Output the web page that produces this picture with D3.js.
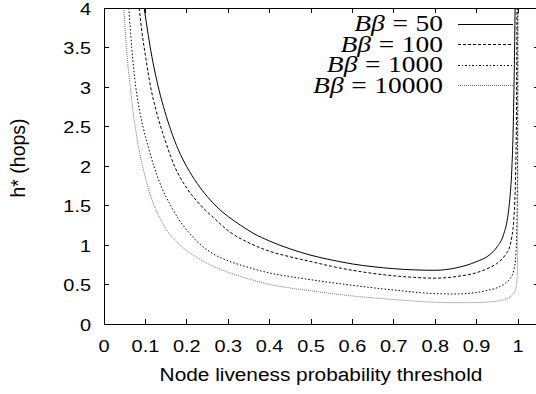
<!DOCTYPE html>
<html>
<head>
<meta charset="utf-8">
<script src="https://cdn.jsdelivr.net/npm/d3@7"></script>
<style>
  body { margin: 0; background: #fff; }
  svg { display: block; }
  .tick-label { font-family: "Liberation Sans", Arial, sans-serif; font-size: 17px; fill: #000; }
  .axis-title { font-family: "Liberation Sans", Arial, sans-serif; font-size: 17.8px; fill: #000; }
  .legend-text { font-family: "Liberation Serif", "DejaVu Serif", serif; font-size: 23.5px; fill: #000; }
</style>
</head>
<body>
<svg id="chart"></svg>
<script>
const svgWidth = 536;
const svgHeight = 394;

// series labels (B*beta) and tick labels
const seriesNames = ["50", "100", "1000", "10000"];
const xTicks = [0, 0.1, 0.2, 0.3, 0.4, 0.5, 0.6, 0.7, 0.8, 0.9, 1];
const xTickLabels = ["0", "0.1", "0.2", "0.3", "0.4", "0.5", "0.6", "0.7", "0.8", "0.9", "1"];
const yTicks = [0, 0.5, 1, 1.5, 2, 2.5, 3, 3.5, 4];
const yTickLabels = ["0", "0.5", "1", "1.5", "2", "2.5", "3", "3.5", "4"];

// values: p (threshold) and h* for each series
const p50 = [0.097, 0.105, 0.113, 0.123, 0.133, 0.147, 0.161, 0.18, 0.2, 0.225, 0.25, 0.275, 0.3, 0.33, 0.36, 0.4, 0.45, 0.5, 0.55, 0.6, 0.65, 0.7, 0.75, 0.8, 0.85, 0.9, 0.93, 0.95, 0.965, 0.975, 0.98, 0.985, 0.988, 0.991, 0.993];
const h50 = [4.0, 3.72, 3.46, 3.19, 2.96, 2.69, 2.46, 2.2, 1.99, 1.78, 1.61, 1.47, 1.36, 1.25, 1.15, 1.05, 0.95, 0.87, 0.81, 0.76, 0.725, 0.70, 0.685, 0.68, 0.71, 0.79, 0.87, 0.98, 1.13, 1.35, 1.57, 1.95, 2.4, 3.2, 4.0];

const p100 = [0.085, 0.092, 0.1, 0.113, 0.125, 0.138, 0.153, 0.171, 0.2, 0.234, 0.27, 0.3, 0.353, 0.4, 0.45, 0.5, 0.55, 0.6, 0.65, 0.7, 0.75, 0.8, 0.85, 0.9, 0.93, 0.95, 0.97, 0.98, 0.985, 0.99, 0.993, 0.995, 0.9965, 0.9975];
const h100 = [4.0, 3.68, 3.4, 2.99, 2.72, 2.48, 2.24, 1.99, 1.72, 1.5, 1.32, 1.18, 1.02, 0.92, 0.85, 0.79, 0.73, 0.68, 0.64, 0.61, 0.59, 0.58, 0.6, 0.65, 0.71, 0.77, 0.88, 0.98, 1.1, 1.33, 1.65, 2.1, 2.8, 4.0];

const p1000 = [0.06, 0.067, 0.077, 0.086, 0.095, 0.108, 0.121, 0.14, 0.161, 0.18, 0.2, 0.234, 0.27, 0.3, 0.353, 0.4, 0.45, 0.5, 0.6, 0.7, 0.8, 0.85, 0.9, 0.93, 0.95, 0.97, 0.98, 0.99, 0.995, 0.998, 0.999, 0.9995];
const h1000 = [4.0, 3.5, 2.99, 2.7, 2.48, 2.22, 1.99, 1.72, 1.5, 1.33, 1.19, 1.0, 0.87, 0.8, 0.71, 0.645, 0.6, 0.56, 0.49, 0.43, 0.385, 0.38, 0.40, 0.43, 0.46, 0.52, 0.57, 0.68, 0.9, 1.5, 2.4, 4.0];

const p10000 = [0.048, 0.055, 0.064, 0.071, 0.078, 0.086, 0.094, 0.107, 0.121, 0.135, 0.15, 0.17, 0.19, 0.2, 0.225, 0.25, 0.275, 0.3, 0.353, 0.4, 0.45, 0.5, 0.55, 0.6, 0.7, 0.8, 0.85, 0.9, 0.93, 0.95, 0.97, 0.98, 0.99, 0.995, 0.998, 0.999, 0.9995, 0.9998];
const h10000 = [4.0, 3.45, 2.97, 2.66, 2.41, 2.17, 1.98, 1.72, 1.5, 1.34, 1.2, 1.07, 0.97, 0.93, 0.84, 0.765, 0.705, 0.655, 0.565, 0.5, 0.455, 0.42, 0.385, 0.355, 0.31, 0.275, 0.27, 0.272, 0.28, 0.29, 0.315, 0.34, 0.39, 0.46, 0.6, 0.94, 1.8, 4.0];

const seriesP = [p50, p100, p1000, p10000];
const seriesH = [h50, h100, h1000, h10000];
const seriesStroke = ["#000", "#000", "#000", "#666"];
const seriesDash = [null, "3,2", "1.5,2", "1,1"];

const margin = { top: 8, left: 104 };
const plotHeight = 316;
const unitWidth = 414; // pixels for p from 0 to 1
const stretch = 1.17;  // the original text is a little wider than tall

const svg = d3.select("#chart")
  .attr("width", svgWidth)
  .attr("height", svgHeight);

const x = d3.scaleLinear()
  .domain([0, 1.05])
  .range([margin.left, margin.left + unitWidth * 1.05]);

const y = d3.scaleLinear()
  .domain([0, 4])
  .range([margin.top + plotHeight, margin.top]);

svg.append("clipPath")
  .attr("id", "plot-clip")
  .append("rect")
  .attr("x", x(0))
  .attr("y", y(4))
  .attr("width", x(1.05) - x(0))
  .attr("height", y(0) - y(4));

// ticks on all four sides, pointing inwards
const tickLen = 5;
const ticksG = svg.append("g")
  .attr("stroke", "#000")
  .attr("stroke-width", 1)
  .attr("shape-rendering", "crispEdges");

xTicks.forEach(t => {
  ticksG.append("line")
    .attr("x1", x(t)).attr("x2", x(t))
    .attr("y1", y(0)).attr("y2", y(0) - tickLen);
  ticksG.append("line")
    .attr("x1", x(t)).attr("x2", x(t))
    .attr("y1", y(4)).attr("y2", y(4) + tickLen);
});
yTicks.forEach(t => {
  ticksG.append("line")
    .attr("x1", x(0)).attr("x2", x(0) + tickLen)
    .attr("y1", y(t)).attr("y2", y(t));
  ticksG.append("line")
    .attr("x1", x(1.05)).attr("x2", x(1.05) - tickLen)
    .attr("y1", y(t)).attr("y2", y(t));
});

svg.selectAll(".x-label")
  .data(xTicks)
  .enter().append("text")
  .attr("class", "tick-label")
  .attr("transform", d => `translate(${x(d)},${y(0) + 28}) scale(${stretch},1)`)
  .attr("text-anchor", "middle")
  .text((d, i) => xTickLabels[i]);

svg.selectAll(".y-label")
  .data(yTicks)
  .enter().append("text")
  .attr("class", "tick-label")
  .attr("transform", d => `translate(${x(0) - 13},${y(d) + 6.5}) scale(${stretch},1)`)
  .attr("text-anchor", "end")
  .text((d, i) => yTickLabels[i]);

svg.append("text")
  .attr("class", "axis-title")
  .attr("transform", `translate(${x(0.5) + 10},381) scale(${stretch},1)`)
  .attr("text-anchor", "middle")
  .text("Node liveness probability threshold");

svg.append("text")
  .attr("class", "axis-title")
  .attr("transform", `translate(25,158) rotate(-90)`)
  .style("font-size", "19.5px")
  .attr("text-anchor", "middle")
  .text("h* (hops)");

// curves
const line = d3.line()
  .x(d => x(d[0]))
  .y(d => y(d[1]))
  .curve(d3.curveMonotoneX);

const curvesG = svg.append("g").attr("clip-path", "url(#plot-clip)");
seriesP.forEach((ps, i) => {
  const pts = ps.map((p, j) => [p, seriesH[i][j]]);
  curvesG.append("path")
    .datum(pts)
    .attr("fill", "none")
    .attr("stroke", seriesStroke[i])
    .attr("stroke-width", i === 3 ? 0.9 : 1)
    .attr("stroke-dasharray", seriesDash[i])
    .attr("d", line);
});

// legend
const legendY = [24, 44.5, 65, 85.5];
seriesNames.forEach((name, i) => {
  const t = svg.append("text")
    .attr("class", "legend-text")
    .attr("transform", `translate(443,${legendY[i] + 7}) scale(${stretch},1)`)
    .attr("text-anchor", "end");
  t.append("tspan").attr("font-style", "italic").text("Bβ");
  t.append("tspan").attr("dx", 6.5).text("=");
  t.append("tspan").attr("dx", 6.5).text(name);
  svg.append("line")
    .attr("x1", 458).attr("x2", 513)
    .attr("y1", legendY[i]).attr("y2", legendY[i])
    .attr("stroke", seriesStroke[i])
    .attr("stroke-width", i === 3 ? 0.9 : 1)
    .attr("stroke-dasharray", seriesDash[i])
    .attr("shape-rendering", "crispEdges");
});

// border
svg.append("rect")
  .attr("x", x(0))
  .attr("y", y(4))
  .attr("width", x(1.05) - x(0))
  .attr("height", y(0) - y(4))
  .attr("fill", "none")
  .attr("stroke", "#000")
  .attr("stroke-width", 1)
  .attr("shape-rendering", "crispEdges");
</script>
</body>
</html>
